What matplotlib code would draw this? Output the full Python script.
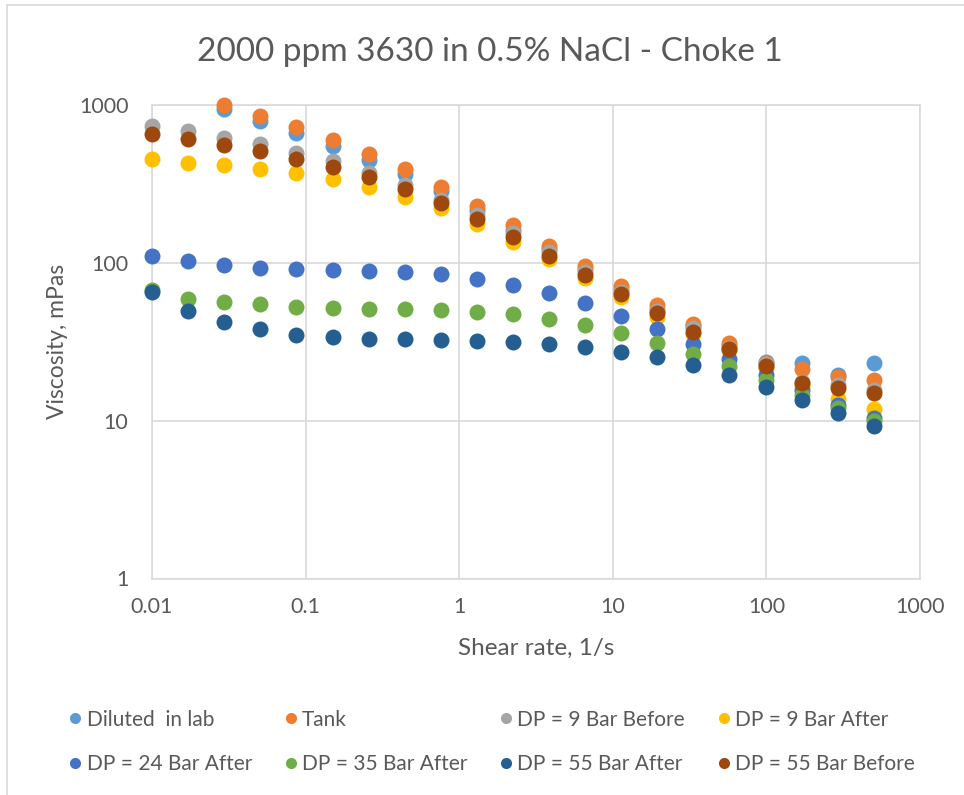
import matplotlib
matplotlib.use("Agg")
import matplotlib.pyplot as plt
from matplotlib.lines import Line2D
from matplotlib.patches import Rectangle

plt.rcParams['font.family'] = ['Lato', 'DejaVu Sans']

shear_rate = [0.01, 0.0172, 0.0295, 0.0507, 0.0871, 0.150, 0.257, 0.442, 0.758, 1.30,
              2.24, 3.85, 6.60, 11.3, 19.5, 33.5, 57.5, 98.8, 170, 292, 500]

diluted = [936, 793, 666, 548, 447, 363, 285, 216, 161, 122, 91, 68, 51, 39.5, 29.6,
           23.6, 23.3, 19.5, 23.1]
tank = [1000, 851, 720, 598, 488, 390, 303, 230, 173, 128, 95.7, 71.2, 53.7, 40.8, 30.9,
        23.0, 21.1, 19.0, 18.1]
dp9_before = [733, 679, 613, 561, 497, 440, 368, 311, 250, 200, 154, 116, 87, 65.4, 49.4,
              38.5, 29, 22.7, 17.6, 16.8, 15.6]
dp9_after = [451, 430, 415, 392, 368, 338, 300, 262, 221, 176, 136, 105, 79.6, 60.4, 45.5,
             35.3, 27.8, 21.5, 16.5, 13.7, 11.9]
dp24_after = [110, 102.5, 96.6, 92, 90.8, 89.5, 88.6, 86.9, 84.5, 78.9, 72.3, 64, 55.3,
              46.1, 38, 30.5, 24.4, 19.4, 15.6, 12.6, 10.4]
dp35_after = [67.1, 58.9, 56.6, 54.5, 52.2, 51.5, 51.2, 50.7, 50.2, 49.0, 47.1, 44.0, 40.3,
              35.9, 31.0, 26.4, 22.0, 18.1, 14.6, 12.0, 9.9]
dp55_after = [65.5, 49.7, 42.0, 37.9, 35.0, 33.7, 33.0, 32.7, 32.4, 32.1, 31.5, 30.5, 29.2,
              27.3, 25.1, 22.5, 19.5, 16.3, 13.5, 11.2, 9.3]
dp55_before = [653, 607, 556, 509, 455, 402, 347, 292, 239, 189, 145, 110, 83.2, 63.2,
               47.9, 36.5, 28.3, 22.0, 17.3, 16.0, 14.9]

series = [
    ("Diluted  in lab", shear_rate[2:], diluted, "#5B9BD5"),
    ("Tank", shear_rate[2:], tank, "#ED7D31"),
    ("DP = 9 Bar Before", shear_rate, dp9_before, "#A5A5A5"),
    ("DP = 9 Bar After", shear_rate, dp9_after, "#FFC000"),
    ("DP = 24 Bar After", shear_rate, dp24_after, "#4472C4"),
    ("DP = 35 Bar After", shear_rate, dp35_after, "#70AD47"),
    ("DP = 55 Bar After", shear_rate, dp55_after, "#255E91"),
    ("DP = 55 Bar Before", shear_rate, dp55_before, "#9E480E"),
]

W, H = 964, 795
fig = plt.figure(figsize=(W / 100, H / 100), dpi=100)
L, R, T, B = 152, 920, 104.7, 578.5
ax = fig.add_axes([L / W, 1 - B / H, (R - L) / W, (B - T) / H])

txt = "#595959"
grid = "#D9D9D9"

for name, xs, ys, col in series:
    ax.plot(xs, ys, linestyle="none", marker="o", markersize=11.5, color=col,
            markeredgewidth=0, clip_on=False, zorder=3)

ax.set_xscale("log")
ax.set_yscale("log")
ax.set_xlim(0.01, 1000)
ax.set_ylim(1, 1000)
ax.set_xticks([0.01, 0.1, 1, 10, 100, 1000])
ax.set_xticklabels(["0.01", "0.1", "1", "10", "100", "1000"])
ax.set_yticks([1, 10, 100, 1000])
ax.set_yticklabels(["1", "10", "100", "1000"])
ax.minorticks_off()
ax.grid(True, which="major", color=grid, linewidth=1.2, zorder=0)
ax.set_axisbelow(True)
for s in ax.spines.values():
    s.set_color(grid)
    s.set_linewidth(1.2)
ax.tick_params(axis="both", length=0, labelsize=15.5, colors=txt)
ax.tick_params(axis="x", pad=13)
ax.tick_params(axis="y", pad=17)

fig.text(490 / W, 1 - 52 / H, "2000 ppm 3630 in 0.5% NaCl - Choke 1", ha="center",
         va="center", fontsize=24, color=txt)
fig.text(536 / W, 1 - 648 / H, "Shear rate, 1/s", ha="center", va="center",
         fontsize=17.5, color=txt)
fig.text(58 / W, 1 - 341.6 / H, "Viscosity, mPas", ha="center", va="center",
         fontsize=16.5, color=txt, rotation=90)

# outer chart border
fig.patches.append(Rectangle((7 / W, -0.05), 1.2, 1 - 5 / H + 0.05, transform=fig.transFigure,
                             fill=False, edgecolor=grid, linewidth=1.2))

handles = {name: Line2D([], [], linestyle="none", marker="o", markersize=8, color=col,
                        markeredgewidth=0) for name, _, _, col in series}
order = ["Diluted  in lab", "DP = 24 Bar After", "Tank", "DP = 35 Bar After",
         "DP = 9 Bar Before", "DP = 55 Bar After", "DP = 9 Bar After", "DP = 55 Bar Before"]
leg = fig.legend([handles[n] for n in order], order, ncol=4, loc="center left",
                 bbox_to_anchor=(69 / W, 1 - 742 / H), frameon=False, fontsize=15,
                 labelcolor=txt, handlelength=0.6, handletextpad=0.25, columnspacing=1.55,
                 labelspacing=1.2, borderpad=0, borderaxespad=0)

fig.savefig("out.png", dpi=100, facecolor="white")
